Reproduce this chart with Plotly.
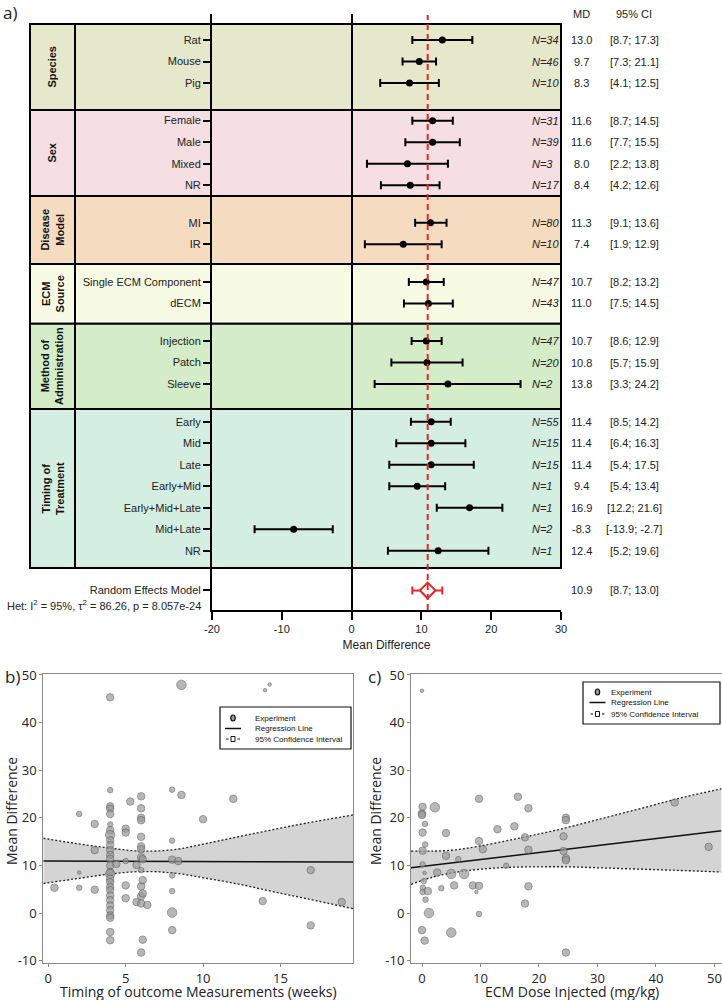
import plotly.graph_objects as go

# ---------------- Forest plot data ----------------
group_names = ["Species", "Sex", "Disease<br>Model", "ECM<br>Source",
               "Method of<br>Administration", "Timing of<br>Treatment"]
group_sizes = [3, 4, 2, 2, 3, 7]
group_colors = ["#e6e8cc", "#f5dfe2", "#f5dcc0", "#f8fbe4", "#d4ecc8", "#d5eee2"]

row_labels = ["Rat", "Mouse", "Pig",
              "Female", "Male", "Mixed", "NR",
              "MI", "IR",
              "Single ECM Component", "dECM",
              "Injection", "Patch", "Sleeve",
              "Early", "Mid", "Late", "Early+Mid", "Early+Mid+Late", "Mid+Late", "NR"]
md = [13.0, 9.7, 8.3,
      11.6, 11.6, 8.0, 8.4,
      11.3, 7.4,
      10.7, 11.0,
      10.7, 10.8, 13.8,
      11.4, 11.4, 11.4, 9.4, 16.9, -8.3, 12.4]
ci_low = [8.7, 7.3, 4.1,
          8.7, 7.7, 2.2, 4.2,
          9.1, 1.9,
          8.2, 7.5,
          8.6, 5.7, 3.3,
          8.5, 6.4, 5.4, 5.4, 12.2, -13.9, 5.2]
ci_high = [17.3, 12.1, 12.5,
           14.5, 15.5, 13.8, 12.6,
           13.6, 12.9,
           13.2, 14.5,
           12.9, 15.9, 24.2,
           14.2, 16.3, 17.5, 13.4, 21.6, -2.7, 19.6]
ci_text = ["[8.7; 17.3]", "[7.3; 21.1]", "[4.1; 12.5]",
           "[8.7; 14.5]", "[7.7; 15.5]", "[2.2; 13.8]", "[4.2; 12.6]",
           "[9.1; 13.6]", "[1.9; 12.9]",
           "[8.2; 13.2]", "[7.5; 14.5]",
           "[8.6; 12.9]", "[5.7; 15.9]", "[3.3; 24.2]",
           "[8.5; 14.2]", "[6.4; 16.3]", "[5.4; 17.5]", "[5.4; 13.4]",
           "[12.2; 21.6]", "[-13.9; -2.7]", "[5.2; 19.6]"]
n_exp = [34, 46, 10, 31, 39, 3, 17, 80, 10, 47, 43, 47, 20, 2, 55, 15, 15, 1, 1, 2, 1]

re_label = "Random Effects Model"
re_md = 10.9
re_low = 8.7
re_high = 13.0
re_ci_text = "[8.7; 13.0]"
het_text = "Het: I<sup>2</sup> = 95%, \u03c4<sup>2</sup> = 86.26, p = 8.057e-24"
forest_xticks = [-20, -10, 0, 10, 20, 30]

# ---------------- Panel b data (timing, MD, weight class) ----------------
b_x = [0.4,
       2.0, 2.0, 2.0,
       3.0, 3.0, 3.0,
       4.0, 4.0, 4.0, 4.0, 4.0, 4.0, 4.0, 4.0, 4.0, 4.0, 4.0, 4.0, 4.0, 4.0,
       4.0, 4.0, 4.0, 4.0, 4.0, 4.0, 4.0, 4.0, 4.0, 4.0, 4.0, 4.0, 4.0, 4.0,
       4.4,
       5.0, 5.0, 5.0, 5.0, 5.0,
       5.3, 5.7, 5.7,
       6.0, 6.0, 6.0, 6.0, 6.0, 6.0, 6.0, 6.0, 6.0, 6.0, 6.0, 6.0, 6.0,
       6.1, 6.1, 6.1, 6.1, 6.4,
       8.0, 8.0, 8.0, 8.0, 8.0, 8.0, 8.0,
       8.4, 8.6, 8.6, 10.0, 11.95, 13.85, 14.0, 14.3, 16.95, 16.95, 18.95]
b_y = [5.3,
       20.8, 8.5, 5.3,
       18.7, 13.2, 4.9,
       45.3, 25.8, 22.4, 21.9, 20.8, 18.6, 17.4, 16.4, 15.3, 14.3, 13.2, 12.2, 11.4, 10.0,
       8.6, 8.2, 7.2, 6.5, 5.5, 4.8, 3.7, 2.7, 1.6, 0.6, -0.5, -1.0, -4.0, -5.7,
       10.3,
       17.7, 16.9, 10.9, 5.8, 3.1,
       23.4, 10.1, 2.3,
       24.5, 22.0, 20.0, 19.5, 16.0, 14.0, 13.4, 11.7, 9.0, 5.6, 3.5, 2.0, -8.3,
       11.3, 6.9, 4.1, -5.6, 1.7,
       25.9, 15.2, 11.2, 7.9, 4.6, 0.1, -3.6,
       10.9, 47.9, 24.8, 19.7, 24.0, 2.5, 46.8, 48.0, 9.0, -2.6, 2.3]
b_w = [3,
       2, 1, 2,
       3, 3, 3,
       3, 2, 3, 3, 3, 2, 3, 4, 3, 3, 3, 3, 3, 3,
       3, 4, 3, 3, 3, 3, 3, 3, 3, 3, 3, 3, 3, 3,
       3,
       3, 3, 2, 3, 3,
       3, 3, 3,
       3, 3, 3, 3, 3, 3, 3, 3, 2, 3, 3, 3, 3,
       3, 3, 3, 3, 3,
       2, 2, 3, 2, 2, 4, 3,
       3, 4, 3, 3, 3, 3, 1, 1, 3, 3, 3]
b_reg_x = [-0.32, 19.7]
b_reg_y = [10.9, 10.7]
b_ci_x = [-0.32, 1.6, 3.8, 5.9, 8.1, 10.2, 12.4, 14.5, 16.7, 19.7]
b_ci_upper = [15.7, 14.7, 13.7, 13.0, 13.3, 14.6, 16.1, 17.5, 18.9, 20.6]
b_ci_lower = [6.2, 7.1, 8.1, 8.7, 8.4, 7.3, 6.0, 4.5, 3.0, 0.9]

# ---------------- Panel c data (dose, MD, weight class) ----------------
c_x = [0.0, 0.1, 0.0, 0.0, 2.2, 9.75, 16.4, 18.2, 0.5, 0.1, 4.1, 12.9, 15.8,
       24.6, 24.6, 9.75, 17.6, 24.2, 43.2, 0.55, 0.1, 10.4, 18.2, 24.2, 4.1,
       6.2, 24.6, 24.6, 49.0, 0.1, 14.4, 0.45, 2.6, 5.0, 7.2, 0.3, 5.5, 8.7,
       9.75, 18.2, 3.3, 0.15, 0.1, 1.0, 9.3, 0.6, 1.2, 9.75, 17.6, 0.0, 0.45,
       5.0, 24.6]
c_y = [46.7, 22.3, 20.9, 20.6, 22.2, 24.0, 24.4, 22.0, 18.7, 16.9, 16.8, 17.6, 18.2,
       20.0, 19.5, 15.1, 15.9, 16.1, 23.2, 14.4, 13.1, 13.4, 13.3, 13.0, 12.0,
       11.3, 11.5, 11.1, 13.9, 10.2, 9.9, 8.4, 8.5, 8.2, 8.2, 6.7, 5.8, 5.8,
       5.7, 5.6, 5.2, 5.3, 4.4, 4.6, 4.4, 2.8, 0.0, -0.2, 2.0, -3.6, -5.8,
       -4.1, -8.3]
c_w = [1, 3, 3, 3, 4, 3, 3, 3, 2, 3, 3, 3, 3,
       3, 3, 3, 3, 3, 3, 2, 3, 3, 3, 3, 3,
       2, 3, 3, 3, 2, 2, 1, 3, 4, 4, 2, 3, 3,
       3, 3, 2, 2, 2, 3, 1, 2, 4, 2, 3, 3, 3,
       4, 3]
c_reg_x = [-1.88, 51.2]
c_reg_y = [9.5, 17.3]
c_ci_x = [-1.88, 2, 6, 10, 15, 20, 25, 30, 35, 40, 45, 51.2]
c_ci_upper = [13.0, 13.0, 13.3, 14.1, 15.3, 16.6, 18.0, 19.6, 21.2, 22.8, 24.4, 26.1]
c_ci_lower = [6.0, 7.6, 8.6, 9.2, 9.6, 9.7, 9.7, 9.5, 9.3, 9.1, 8.9, 8.6]

legend_labels = ["Experiment", "Regression Line", "95% Confidence Interval"]
b_xtitle = "Timing of outcome Measurements (weeks)"
c_xtitle = "ECM Dose Injected (mg/kg)"
scatter_ytitle = "Mean Difference"
scatter_yticks = [-10, 0, 10, 20, 30, 40, 50]

# ---------------- helpers ----------------
W, H = 722, 1000
def px(x):
    return x / W
def py(y):
    return 1 - y / H

FF = "Liberation Sans, Arial, sans-serif"
FS = "Open Sans, sans-serif"

def ann(**kw):
    kw.setdefault("showarrow", False)
    kw.setdefault("xanchor", "center")
    kw.setdefault("yanchor", "middle")
    return kw

# row positions (layout)
GAP = 0.75
pos = []
p = 0.0
for gi, size in enumerate(group_sizes):
    if gi > 0:
        p += GAP
    for k in range(size):
        pos.append(p)
        p += 1
re_pos = pos[-1] + 1.85
box_edges = [-0.74, 3.26, 7.26, 10.42, 13.2, 17.16, 24.56]

fig = go.Figure()

# forest estimates
fig.add_trace(go.Scatter(
    x=md, y=pos, mode="markers", xaxis="x", yaxis="y",
    marker=dict(color="black", size=7, symbol="circle"),
    error_x=dict(type="data", symmetric=False,
                 array=[h - m for h, m in zip(ci_high, md)],
                 arrayminus=[m - l for m, l in zip(md, ci_low)],
                 color="black", thickness=2, width=4),
    showlegend=False, hoverinfo="skip"))
# random effects
fig.add_trace(go.Scatter(
    x=[re_md], y=[re_pos], mode="markers", xaxis="x", yaxis="y",
    marker=dict(color="white", size=12, symbol="diamond",
                line=dict(color="#e8262a", width=2)),
    error_x=dict(type="data", symmetric=False, array=[re_high - re_md],
                 arrayminus=[re_md - re_low], color="#e8262a", thickness=2, width=4),
    showlegend=False, hoverinfo="skip"))

shapes = []
annotations = []
TXT = dict(family=FF, size=11, color="#222")

# group boxes
for gi, name in enumerate(group_names):
    y0, y1 = box_edges[gi], box_edges[gi + 1]
    shapes.append(dict(type="rect", xref="paper", yref="y", x0=px(30), x1=px(561),
                       y0=y0, y1=y1, fillcolor=group_colors[gi],
                       line=dict(color="black", width=2), layer="below"))
    annotations.append(ann(xref="paper", yref="y", x=px(52.5), y=(y0 + y1) / 2,
                           text="<b>" + name + "</b>", textangle=-90,
                           font=dict(family=FF, size=11, color="#111")))
shapes.append(dict(type="line", xref="paper", yref="y", x0=px(75), x1=px(75),
                   y0=box_edges[0], y1=box_edges[-1],
                   line=dict(color="black", width=2), layer="below"))
# reference line at pooled estimate
shapes.append(dict(type="line", xref="x", yref="paper", x0=re_md, x1=re_md,
                   y0=py(610), y1=py(15),
                   line=dict(color="#e8262a", width=2, dash="6px,4px"), layer="above"))

# N labels, MD and CI columns
for i in range(len(md)):
    annotations.append(ann(xref="x", yref="y", x=25.6, y=pos[i], xanchor="left",
                           text="<i>N=%d</i>" % n_exp[i], font=TXT))
    annotations.append(ann(xref="paper", yref="y", x=px(581), y=pos[i],
                           text="%.1f" % md[i], font=TXT))
    annotations.append(ann(xref="paper", yref="y", x=px(634), y=pos[i],
                           text=ci_text[i], font=TXT))
annotations.append(ann(xref="paper", yref="y", x=px(581), y=re_pos, text="%.1f" % re_md, font=TXT))
annotations.append(ann(xref="paper", yref="y", x=px(634), y=re_pos, text=re_ci_text, font=TXT))
annotations.append(ann(xref="paper", yref="paper", x=px(581), y=py(14), text="MD", font=TXT))
annotations.append(ann(xref="paper", yref="paper", x=px(634), y=py(14), text="95% CI", font=TXT))
annotations.append(ann(xref="paper", yref="paper", x=px(203), y=py(605), xanchor="right",
                       text=het_text, font=TXT))
# panel letters
for lab, lx, ly in [("a)", 1, 12), ("b)", 3, 676), ("c)", 366, 676)]:
    annotations.append(ann(xref="paper", yref="paper", x=px(lx), y=py(ly), xanchor="left",
                           text=lab, font=dict(family=FS, size=17, color="#222")))

# scatter panel axis titles
TITLE = dict(family=FS, size=14, color="#222")
annotations.append(ann(xref="paper", yref="paper", x=px(198), y=py(991), text=b_xtitle, font=TITLE))
annotations.append(ann(xref="paper", yref="paper", x=px(572), y=py(991), text=c_xtitle, font=TITLE))
annotations.append(ann(xref="paper", yref="paper", x=px(11), y=py(811), text=scatter_ytitle,
                       textangle=-90, font=TITLE))
annotations.append(ann(xref="paper", yref="paper", x=px(375), y=py(811), text=scatter_ytitle,
                       textangle=-90, font=TITLE))

# ---------------- scatter panels ----------------
size_map = {1: 3.5, 2: 5.5, 3: 7.5, 4: 9.5}

def add_panel(xa, ya, sx, sy, sw, rx, ry, cx, cu, cl):
    fig.add_trace(go.Scatter(x=cx, y=cu, mode="lines", xaxis=xa, yaxis=ya,
                             line=dict(color="#222", width=1.3, dash="2px,2px", shape="spline"),
                             showlegend=False, hoverinfo="skip"))
    fig.add_trace(go.Scatter(x=cx, y=cl, mode="lines", xaxis=xa, yaxis=ya, fill="tonexty",
                             fillcolor="#d4d4d4",
                             line=dict(color="#222", width=1.3, dash="2px,2px", shape="spline"),
                             showlegend=False, hoverinfo="skip"))
    fig.add_trace(go.Scatter(x=rx, y=ry, mode="lines", xaxis=xa, yaxis=ya,
                             line=dict(color="#111", width=1.5),
                             showlegend=False, hoverinfo="skip"))
    fig.add_trace(go.Scatter(x=sx, y=sy, mode="markers", xaxis=xa, yaxis=ya,
                             marker=dict(color="#9a9a9a", size=[size_map[w] for w in sw],
                                         line=dict(color="#555", width=0.8)),
                             showlegend=False, hoverinfo="skip"))

add_panel("x2", "y2", b_x, b_y, b_w, b_reg_x, b_reg_y, b_ci_x, b_ci_upper, b_ci_lower)
add_panel("x3", "y3", c_x, c_y, c_w, c_reg_x, c_reg_y, c_ci_x, c_ci_upper, c_ci_lower)

def add_legend(bx0, by0, bx1, by1, sym_cx, text_x, rows):
    shapes.append(dict(type="rect", xref="paper", yref="paper", x0=px(bx0), x1=px(bx1),
                       y0=py(by1), y1=py(by0), fillcolor="white",
                       line=dict(color="#111", width=1.2), layer="above"))
    r0, r1, r2 = rows
    shapes.append(dict(type="circle", xref="paper", yref="paper",
                       x0=px(sym_cx - 2.2), x1=px(sym_cx + 2.2), y0=py(r0 + 3), y1=py(r0 - 3),
                       fillcolor="#9a9a9a", line=dict(color="#111", width=1.2), layer="above"))
    shapes.append(dict(type="line", xref="paper", yref="paper",
                       x0=px(sym_cx - 8), x1=px(sym_cx + 8), y0=py(r1), y1=py(r1),
                       line=dict(color="#111", width=1.5), layer="above"))
    for a, b in [(sym_cx - 7, sym_cx - 4.5), (sym_cx + 4.5, sym_cx + 7)]:
        shapes.append(dict(type="line", xref="paper", yref="paper",
                           x0=px(a), x1=px(b), y0=py(r2), y1=py(r2),
                           line=dict(color="#111", width=1), layer="above"))
    shapes.append(dict(type="rect", xref="paper", yref="paper",
                       x0=px(sym_cx - 2), x1=px(sym_cx + 2), y0=py(r2 + 2.5), y1=py(r2 - 2.5),
                       fillcolor="white", line=dict(color="#111", width=1), layer="above"))
    for lab, ry in zip(legend_labels, rows):
        annotations.append(ann(xref="paper", yref="paper", x=px(text_x), y=py(ry),
                               xanchor="left", text=lab,
                               font=dict(family=FF, size=8, color="#111")))

add_legend(220, 707, 351, 749, 233, 253, (718, 728.5, 739))
add_legend(583, 682, 720, 724, 597.5, 609, (692, 702.5, 714))

axis_frame = dict(showline=True, mirror=True, linecolor="#8a8a8a", linewidth=1,
                  ticks="outside", ticklen=3, tickcolor="#8a8a8a", showgrid=False,
                  zeroline=False, automargin=False,
                  tickfont=dict(family=FS, size=13, color="#222"))

fig.update_layout(
    template="none",
    width=W, height=H, autosize=False,
    margin=dict(l=0, r=0, t=0, b=0, pad=0),
    paper_bgcolor="white", plot_bgcolor="rgba(0,0,0,0)",
    font=dict(family=FF, color="#222"),
    showlegend=False,
    xaxis=dict(domain=[px(212), px(561)], range=[-20, 30], anchor="y", automargin=False,
               tickvals=forest_xticks, ticktext=[str(v) for v in forest_xticks],
               showline=True, linecolor="black", linewidth=2,
               ticks="outside", ticklen=8, tickwidth=2, tickcolor="black", showgrid=False,
               zeroline=True, zerolinecolor="black", zerolinewidth=2,
               tickfont=dict(family=FF, size=11, color="#222"),
               title=dict(text="Mean Difference", font=dict(family=FF, size=12, color="#222"),
                          standoff=6)),
    yaxis=dict(domain=[py(610), py(14)], range=[26.51, -1.21], anchor="x", automargin=False,
               tickvals=pos + [re_pos], ticktext=row_labels + [re_label],
               showline=True, linecolor="black", linewidth=2, ticks="outside", ticklen=7,
               tickwidth=2, tickcolor="black", showgrid=False, zeroline=False,
               tickfont=dict(family=FF, size=11, color="#222")),
    xaxis2=dict(domain=[px(43.3), px(353.3)], range=[-0.32, 19.7], anchor="y2",
                tickvals=[0, 5, 10, 15], **axis_frame),
    yaxis2=dict(domain=[py(963), py(674)], range=[-10.5, 50.2], anchor="x2",
                tickvals=scatter_yticks, ticktext=[str(v) for v in scatter_yticks], **axis_frame),
    xaxis3=dict(domain=[px(411), px(721.5)], range=[-1.88, 51.2], anchor="y3",
                tickvals=[0, 10, 20, 30, 40, 50], **axis_frame),
    yaxis3=dict(domain=[py(963), py(674)], range=[-10.5, 50.2], anchor="x3",
                tickvals=scatter_yticks, ticktext=[str(v) for v in scatter_yticks], **axis_frame),
    shapes=shapes,
    annotations=annotations,
)

fig.write_html("out.html", config={"displayModeBar": False},
               post_script="document.body.style.margin='0';document.body.style.padding='0';")
